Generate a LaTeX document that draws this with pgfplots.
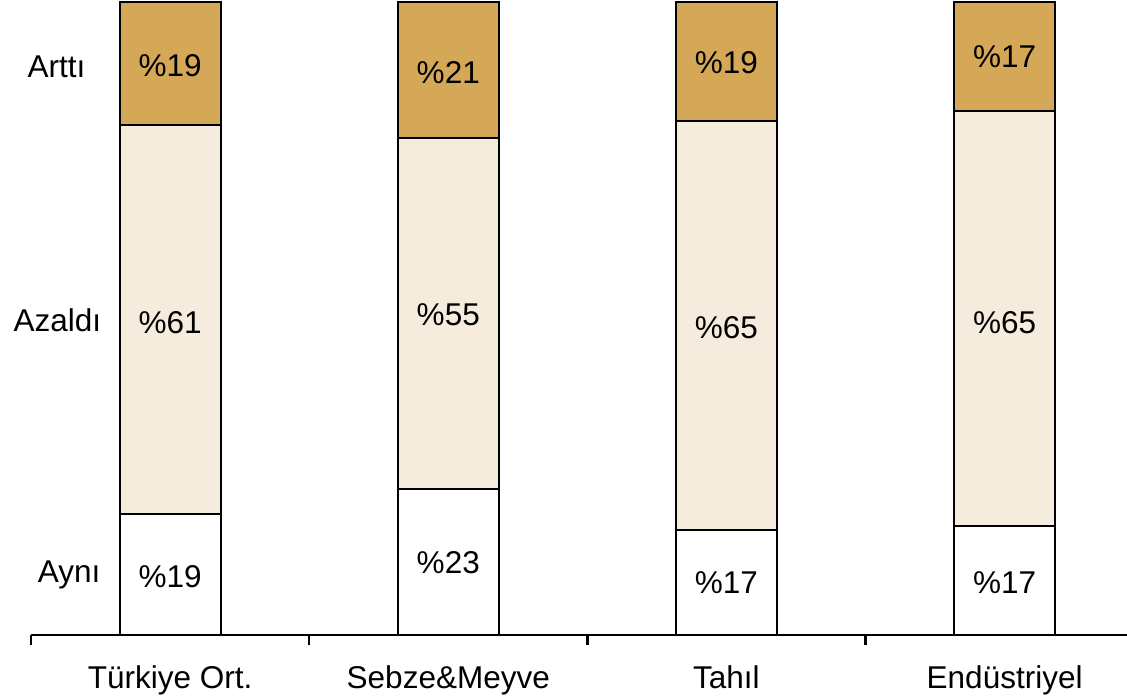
\documentclass[border=0pt]{standalone}
\usepackage{fontspec}
\setmainfont{Liberation Sans}
\usepackage{pgfplots}
\pgfplotsset{compat=1.18}
\definecolor{gold}{HTML}{D4A857}
\definecolor{beige}{HTML}{F6ECDD}
\begin{document}
\fontsize{15.75}{19}\selectfont
\begin{tikzpicture}
\useasboundingbox (0,0) rectangle (563.5pt,349pt);
\pgfplotsset{base/.style={
  at={(15.5pt,31.5pt)}, anchor=south west, scale only axis,
  width=548pt, height=316.5pt, xmin=-0.5, xmax=3.44, ymin=0, ymax=100,
  clip=false}}
\begin{axis}[base, ybar stacked, bar width=50.5pt,
  axis x line*=bottom, axis y line=none,
  x axis line style={line width=1.2pt, -},
  xtick={0,1,2,3},
  xticklabels={Türkiye Ort., Sebze\&Meyve, Tahıl, Endüstriyel},
  major x tick style={draw=none},
  minor xtick={-0.5,0.5,1.5,2.5},
  minor x tick style={line width=1.2pt, black},
  minor tick length=5pt, major tick length=0pt, tick align=outside,
  xticklabel style={font=\fontsize{15.75}{19}\selectfont, anchor=base, yshift=-26.5pt},
  ytick=\empty,
  every axis plot/.append style={draw=black, line width=1pt}]
\addplot[fill=white] coordinates {(0,19.1) (1,23.1) (2,16.6) (3,17.2)};
\addplot[fill=beige] coordinates {(0,61.4) (1,55.4) (2,64.6) (3,65.6)};
\addplot[fill=gold] coordinates {(0,19.5) (1,21.5) (2,18.8) (3,17.2)};
\end{axis}
\begin{axis}[base, axis lines=none, xtick=\empty, ytick=\empty,
  point meta=explicit symbolic,
  nodes near coords,
  every node near coord/.append style={anchor=center, inner sep=0pt,
    font=\fontsize{15.75}{19}\selectfont}]
\addplot[only marks, mark=none] coordinates {
  (0,90.0) [\%19] (0,49.4) [\%61] (0,9.2) [\%19]
  (1,88.9) [\%21] (1,50.6) [\%55] (1,11.4) [\%23]
  (2,90.4) [\%19] (2,48.5) [\%65] (2,8.2) [\%17]
  (3,91.3) [\%17] (3,49.4) [\%65] (3,8.2) [\%17]
  (-0.408,89.7) [Arttı] (-0.405,49.8) [Azaldı] (-0.363,9.5) [Aynı]
};
\end{axis}
\end{tikzpicture}
\end{document}
